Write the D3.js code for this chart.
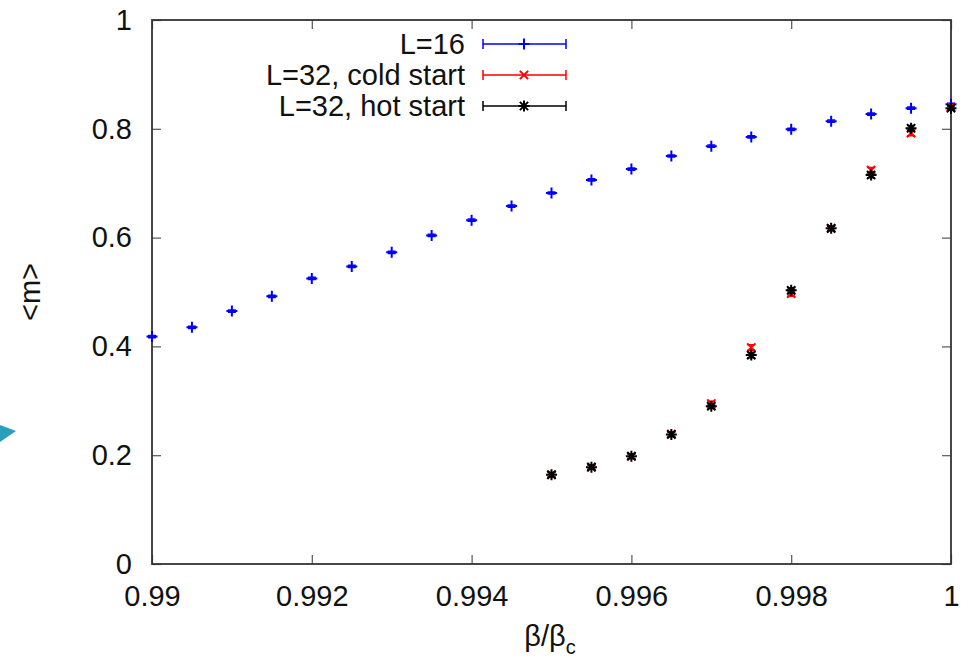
<!DOCTYPE html>
<html>
<head>
<meta charset="utf-8">
<script src="https://cdn.jsdelivr.net/npm/d3@7"></script>
<style>
  body { margin: 0; background: #fff; }
  svg { display: block; font-family: "Liberation Sans", Arial, sans-serif; }
</style>
</head>
<body>
<div id="chart"></div>
<script>
// beta / beta_c values
const betaL16 = [0.99, 0.9905, 0.991, 0.9915, 0.992, 0.9925, 0.993, 0.9935, 0.994, 0.9945, 0.995,
                 0.9955, 0.996, 0.9965, 0.997, 0.9975, 0.998, 0.9985, 0.999, 0.9995, 1.0];
const mL16 = [0.418, 0.435, 0.465, 0.492, 0.525, 0.547, 0.573, 0.604, 0.632, 0.658, 0.682,
              0.706, 0.726, 0.750, 0.768, 0.785, 0.799, 0.814, 0.827, 0.838, 0.845];
const errL16 = [0.002, 0.002, 0.002, 0.002, 0.002, 0.002, 0.002, 0.002, 0.002, 0.002, 0.002,
                0.002, 0.002, 0.002, 0.002, 0.002, 0.002, 0.002, 0.002, 0.002, 0.002];

const betaL32 = [0.995, 0.9955, 0.996, 0.9965, 0.997, 0.9975, 0.998, 0.9985, 0.999, 0.9995, 1.0];
const mCold = [0.164, 0.178, 0.198, 0.239, 0.295, 0.398, 0.497, 0.617, 0.724, 0.792, 0.840];
const errCold = [0.004, 0.004, 0.004, 0.004, 0.004, 0.005, 0.005, 0.004, 0.005, 0.005, 0.004];
const mHot = [0.164, 0.178, 0.198, 0.238, 0.290, 0.384, 0.503, 0.617, 0.715, 0.801, 0.838];
const errHot = [0.004, 0.004, 0.004, 0.004, 0.004, 0.005, 0.005, 0.004, 0.005, 0.005, 0.004];

const xTicks = [0.99, 0.992, 0.994, 0.996, 0.998, 1];
const yTicks = [0, 0.2, 0.4, 0.6, 0.8, 1];

const seriesNames = ["L=16", "L=32, cold start", "L=32, hot start"];
const seriesColors = ["#0000ff", "#ff0000", "#000000"];
const seriesShapes = ["plus", "cross", "star"];

const W = 970, H = 658;
const margin = { top: 20, right: 19, bottom: 94, left: 152 },
      width = W - margin.left - margin.right,
      height = H - margin.top - margin.bottom;
const fontSize = 29;

const root = d3.select("#chart").append("svg")
    .attr("width", W)
    .attr("height", H);

const svg = root.append("g")
    .attr("transform", "translate(" + margin.left + "," + margin.top + ")");

const x = d3.scaleLinear().domain([0.99, 1]).range([0, width]);
const y = d3.scaleLinear().domain([0, 1]).range([height, 0]);

// small teal arrowhead on the left edge (slide decoration)
root.append("polygon")
    .attr("points", "0,425 16,431 0,442")
    .attr("fill", "#2a9fbc");

// ticks on all four sides, pointing in
const tickLen = 9;
svg.append("g")
    .attr("transform", "translate(0," + height + ")")
    .call(d3.axisBottom(x).tickValues(xTicks).tickSizeInner(-tickLen).tickSizeOuter(0)
      .tickPadding(21).tickFormat(d => d === 1 ? "1" : d3.format(".3~f")(d)))
    .call(g => g.select(".domain").remove())
    .call(g => g.selectAll("text").attr("font-size", fontSize).attr("fill", "#111").attr("font-family", null))
    .call(g => g.selectAll("line").attr("stroke", "#555").attr("stroke-width", 1.2));

svg.append("g")
    .call(d3.axisTop(x).tickValues(xTicks).tickSizeInner(-tickLen).tickSizeOuter(0).tickFormat(""))
    .call(g => g.select(".domain").remove())
    .call(g => g.selectAll("line").attr("stroke", "#555").attr("stroke-width", 1.2));

svg.append("g")
    .call(d3.axisLeft(y).tickValues(yTicks).tickSizeInner(-tickLen).tickSizeOuter(0)
      .tickPadding(20).tickFormat(d3.format("~g")))
    .call(g => g.select(".domain").remove())
    .call(g => g.selectAll("text").attr("font-size", fontSize).attr("fill", "#111").attr("font-family", null))
    .call(g => g.selectAll("line").attr("stroke", "#555").attr("stroke-width", 1.2));

svg.append("g")
    .attr("transform", "translate(" + width + ",0)")
    .call(d3.axisRight(y).tickValues(yTicks).tickSizeInner(-tickLen).tickSizeOuter(0).tickFormat(""))
    .call(g => g.select(".domain").remove())
    .call(g => g.selectAll("line").attr("stroke", "#555").attr("stroke-width", 1.2));

// frame
svg.append("rect")
    .attr("width", width)
    .attr("height", height)
    .attr("fill", "none")
    .attr("stroke", "#333")
    .attr("stroke-width", 1.8);

// marker path generator
function markerPath(shape, s) {
  const d = d3.path();
  if (shape === "plus" || shape === "star") {
    d.moveTo(-s, 0); d.lineTo(s, 0);
    d.moveTo(0, -s); d.lineTo(0, s);
  }
  if (shape === "cross" || shape === "star") {
    const k = s * 0.75;
    d.moveTo(-k, -k); d.lineTo(k, k);
    d.moveTo(-k, k); d.lineTo(k, -k);
  }
  return d.toString();
}

function drawSeries(xs, ys, errs, color, shape) {
  const g = svg.append("g");
  const pts = xs.map((b, i) => ({ b: b, m: ys[i], e: errs[i] }));
  const cap = 4;
  g.selectAll("path.err")
    .data(pts)
    .enter().append("path")
      .attr("class", "err")
      .attr("d", d => {
        const cx = x(d.b), y0 = y(d.m - d.e), y1 = y(d.m + d.e);
        return "M" + cx + "," + y0 + "V" + y1 +
               "M" + (cx - cap) + "," + y0 + "H" + (cx + cap) +
               "M" + (cx - cap) + "," + y1 + "H" + (cx + cap);
      })
      .attr("stroke", color)
      .attr("stroke-width", 1.5)
      .attr("fill", "none");
  g.selectAll("path.mk")
    .data(pts)
    .enter().append("path")
      .attr("class", "mk")
      .attr("transform", d => "translate(" + x(d.b) + "," + y(d.m) + ")")
      .attr("d", markerPath(shape, 5.5))
      .attr("stroke", color)
      .attr("stroke-width", 2)
      .attr("fill", "none");
}

drawSeries(betaL16, mL16, errL16, seriesColors[0], seriesShapes[0]);
drawSeries(betaL32, mCold, errCold, seriesColors[1], seriesShapes[1]);
drawSeries(betaL32, mHot, errHot, seriesColors[2], seriesShapes[2]);

// legend
const legend = root.append("g");
seriesNames.forEach((name, i) => {
  const ly = 44 + i * 31;
  const row = legend.append("g").attr("transform", "translate(0," + ly + ")");
  row.append("text")
      .attr("x", 465)
      .attr("y", 0)
      .attr("dy", "0.35em")
      .attr("text-anchor", "end")
      .attr("font-size", fontSize)
      .attr("fill", "#111")
      .text(name);
  row.append("path")
      .attr("d", "M483,0H566M483,-5V5M566,-5V5")
      .attr("stroke", seriesColors[i])
      .attr("stroke-width", 1.5)
      .attr("fill", "none");
  row.append("path")
      .attr("transform", "translate(524,0)")
      .attr("d", markerPath(seriesShapes[i], 5.5))
      .attr("stroke", seriesColors[i])
      .attr("stroke-width", 2)
      .attr("fill", "none");
});

// axis labels
root.append("text")
    .attr("transform", "translate(30,292) rotate(-90)")
    .attr("text-anchor", "middle")
    .attr("dy", "0.35em")
    .attr("font-size", fontSize)
    .attr("fill", "#111")
    .text("<m>");

const xl = root.append("text")
    .attr("x", 550)
    .attr("y", 646)
    .attr("text-anchor", "middle")
    .attr("font-size", fontSize)
    .attr("fill", "#111");
xl.append("tspan").text("β/β");
xl.append("tspan").attr("font-size", 20).attr("dy", 8).text("c");
</script>
</body>
</html>
